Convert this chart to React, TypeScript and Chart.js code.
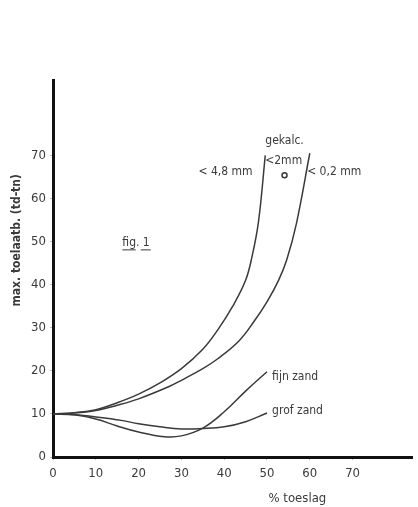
import React, { useEffect, useRef } from "react";
import { Chart, registerables } from "chart.js";

Chart.register(...registerables);

const xTicks = [0, 10, 20, 30, 40, 50, 60, 70];
const yTicks = [0, 10, 20, 30, 40, 50, 60, 70];

const grof48 = [
  { x: 0, y: 10 }, { x: 5, y: 10.3 }, { x: 10, y: 11 }, { x: 15, y: 12.6 },
  { x: 20, y: 14.6 }, { x: 25, y: 17.2 }, { x: 30, y: 20.5 }, { x: 35, y: 25 },
  { x: 38.5, y: 29.5 }, { x: 42, y: 35 }, { x: 45, y: 41 }, { x: 46.5, y: 46.5 },
  { x: 48, y: 54.5 }, { x: 49.6, y: 70 },
];
const fijn02 = [
  { x: 0, y: 10 }, { x: 5, y: 10.2 }, { x: 10, y: 10.8 }, { x: 15, y: 12 },
  { x: 20, y: 13.5 }, { x: 27, y: 16.3 }, { x: 30, y: 17.8 }, { x: 35, y: 20.5 },
  { x: 38.5, y: 22.8 }, { x: 43.5, y: 27 }, { x: 47, y: 31.5 }, { x: 50, y: 36 },
  { x: 52.7, y: 41 }, { x: 54.6, y: 45.7 }, { x: 56.9, y: 54.3 }, { x: 60, y: 70.5 },
];
const fijnZand = [
  { x: 0, y: 10 }, { x: 5, y: 9.8 }, { x: 10, y: 8.8 }, { x: 15, y: 7.2 },
  { x: 20, y: 5.8 }, { x: 26, y: 4.7 }, { x: 30, y: 4.9 }, { x: 35, y: 6.7 },
  { x: 40, y: 10.5 }, { x: 45, y: 15.3 }, { x: 50, y: 19.8 },
];
const grofZand = [
  { x: 0, y: 10 }, { x: 5, y: 9.8 }, { x: 10, y: 9.3 }, { x: 16, y: 8.5 },
  { x: 20, y: 7.7 }, { x: 25, y: 7.0 }, { x: 30, y: 6.5 }, { x: 35, y: 6.6 },
  { x: 40, y: 7.0 }, { x: 45, y: 8.2 }, { x: 50, y: 10.2 },
];
const gekalcPoint = [{ x: 54.1, y: 65.4 }];

const labels = [
  { text: "gekalc.", x: 54.1, y: 73.3, align: "center" },
  { text: "<2mm", x: 53.9, y: 68.7, align: "center" },
  { text: "< 4,8 mm", x: 40.3, y: 66.1, align: "center" },
  { text: "< 0,2 mm", x: 65.7, y: 66.1, align: "center" },
  { text: "fijn zand", x: 51.2, y: 18.6, align: "left" },
  { text: "grof zand", x: 51.2, y: 10.7, align: "left" },
];
const figLabel = { text: "fig. 1", x: 19.4, y: 49.7 };
const xTitle = { text: "% toeslag", x: 57.1 };
const yTitle = { text: "max. toelaatb. (td-tn)", y: 50.3 };

const INK = "#3a3a3a";
const FONT = "'DejaVu Sans Condensed', 'DejaVu Sans', sans-serif";

const annotations = {
  id: "annotations",
  afterDraw(chart: any) {
    const ctx = chart.ctx;
    const xs = chart.scales.x;
    const ys = chart.scales.y;
    ctx.save();
    ctx.fillStyle = INK;
    ctx.strokeStyle = INK;
    ctx.textBaseline = "middle";
    ctx.font = `12px ${FONT}`;
    for (const l of labels) {
      ctx.textAlign = l.align;
      ctx.fillText(l.text, xs.getPixelForValue(l.x), ys.getPixelForValue(l.y));
    }
    ctx.textAlign = "center";
    const fx = xs.getPixelForValue(figLabel.x);
    const fy = ys.getPixelForValue(figLabel.y);
    ctx.fillText(figLabel.text, fx, fy);
    const w = ctx.measureText(figLabel.text).width;
    ctx.lineWidth = 1;
    ctx.beginPath();
    ctx.moveTo(fx - w / 2, fy + 7);
    ctx.lineTo(fx + w / 2 - 14, fy + 7);
    ctx.moveTo(fx + w / 2 - 9, fy + 7);
    ctx.lineTo(fx + w / 2 + 1, fy + 7);
    ctx.stroke();
    ctx.font = `13px ${FONT}`;
    ctx.fillText(xTitle.text, xs.getPixelForValue(xTitle.x), chart.chartArea.bottom + 42);
    ctx.translate(17, ys.getPixelForValue(yTitle.y));
    ctx.rotate(-Math.PI / 2);
    ctx.font = `bold 12px ${FONT}`;
    ctx.fillText(yTitle.text, 0, 0);
    ctx.restore();
  },
};

export default function App() {
  const ref = useRef<HTMLCanvasElement>(null);
  useEffect(() => {
    document.body.style.margin = "0";
    const line = (data: any[]) => ({
      data,
      borderColor: INK,
      borderWidth: 1.5,
      pointRadius: 0,
      fill: false,
      tension: 0.4,
      showLine: true,
    });
    const chart = new Chart(ref.current!, {
      type: "scatter",
      data: {
        datasets: [
          line(grof48),
          line(fijn02),
          line(fijnZand),
          line(grofZand),
          {
            data: gekalcPoint,
            pointRadius: 2.5,
            pointBackgroundColor: "#ffffff",
            pointBorderColor: INK,
            pointBorderWidth: 1.5,
            showLine: false,
          } as any,
        ],
      },
      options: {
        animation: false,
        responsive: false,
        layout: { padding: { top: 80, right: 1, left: 0, bottom: 0 } },
        plugins: { legend: { display: false }, tooltip: { enabled: false } },
        scales: {
          x: {
            type: "linear",
            min: 0,
            max: 84,
            afterBuildTicks: (s: any) => {
              s.ticks = xTicks.map((v) => ({ value: v }));
            },
            afterFit: (s: any) => {
              s.height = 50;
            },
            grid: { display: true, drawOnChartArea: false, tickLength: 3, color: "#bbbbbb" },
            border: { display: true, color: "#111111", width: 3 },
            ticks: { color: INK, font: { family: FONT, size: 13 }, padding: 6, maxRotation: 0 },
          },
          y: {
            type: "linear",
            min: 0,
            max: 87.5,
            afterBuildTicks: (s: any) => {
              s.ticks = yTicks.map((v) => ({ value: v }));
            },
            afterFit: (s: any) => {
              s.width = 53;
            },
            grid: { display: true, drawOnChartArea: false, tickLength: 3, color: "#bbbbbb" },
            border: { display: true, color: "#111111", width: 3 },
            ticks: { color: INK, font: { family: FONT, size: 13 }, padding: 4 },
          },
        },
      },
      plugins: [annotations],
    } as any);
    return () => chart.destroy();
  }, []);
  return <canvas ref={ref} width={418} height={507} style={{ display: "block" }} />;
}
